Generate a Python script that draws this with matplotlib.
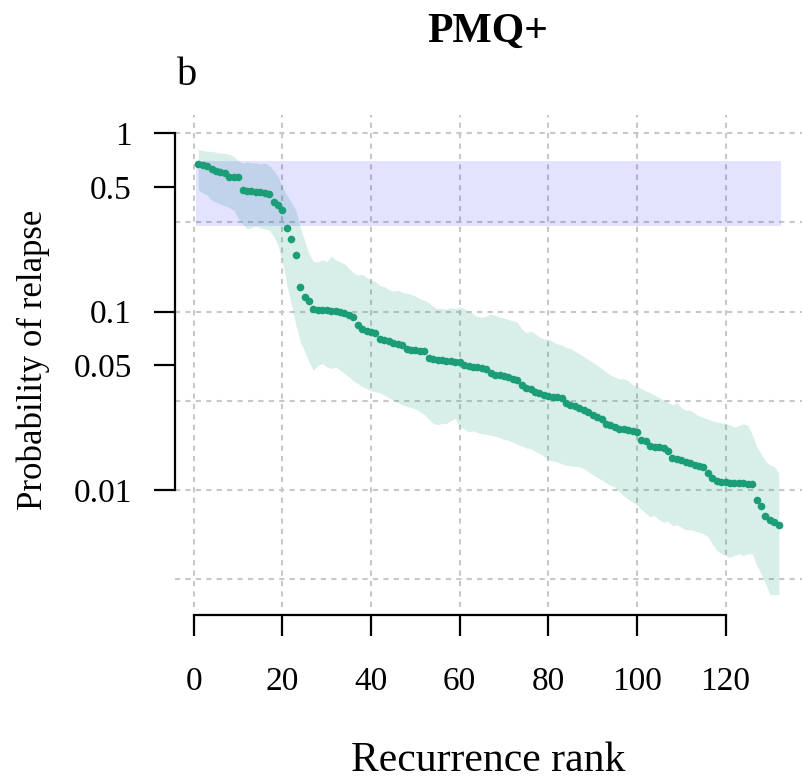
import numpy as np
import matplotlib
matplotlib.use("Agg")
import matplotlib.pyplot as plt

plt.rcParams["font.family"] = ["Liberation Serif", "DejaVu Serif"]

# recurrence rank 1..132, estimated probability of relapse + 95% band
rank = np.arange(1, 133)
prob = [
    0.670, 0.662, 0.653, 0.625, 0.615, 0.605, 0.594, 0.569, 0.566, 0.565,
    0.480, 0.476, 0.472, 0.470, 0.467, 0.462, 0.455, 0.409, 0.395, 0.370,
    0.295, 0.255, 0.207, 0.137, 0.121, 0.115, 0.103, 0.102, 0.102, 0.102,
    0.101, 0.101, 0.100, 0.098, 0.096, 0.093, 0.084, 0.080, 0.078, 0.077,
    0.076, 0.070, 0.069, 0.068, 0.067, 0.066, 0.065, 0.062, 0.061, 0.061,
    0.060, 0.060, 0.0547, 0.0540, 0.0537, 0.0534, 0.0530, 0.0527, 0.0524, 0.0520,
    0.0500, 0.0493, 0.0490, 0.0486, 0.0482, 0.0478, 0.0450, 0.0443, 0.0440, 0.0435,
    0.0428, 0.0418, 0.0413, 0.0387, 0.0375, 0.0366, 0.0356, 0.0348, 0.0343, 0.0338,
    0.0333, 0.0331, 0.0326, 0.0306, 0.0300, 0.0295, 0.0288, 0.0280, 0.0274, 0.0262,
    0.0255, 0.0249, 0.0233, 0.0230, 0.0226, 0.0221, 0.0219, 0.0218, 0.0215, 0.0212,
    0.0191, 0.0188, 0.0177, 0.0175, 0.0174, 0.0172, 0.0166, 0.0152, 0.0149, 0.0147,
    0.0144, 0.0141, 0.0138, 0.0136, 0.0134, 0.0125, 0.0117, 0.0112, 0.0111, 0.0111,
    0.0110, 0.0110, 0.0109, 0.0109, 0.0108, 0.0108, 0.0088, 0.0081, 0.0072, 0.0068,
    0.0066, 0.0064,
]
upper = [
    0.81, 0.80, 0.79, 0.79, 0.78, 0.77, 0.77, 0.76, 0.74, 0.70,
    0.68, 0.69, 0.68, 0.68, 0.67, 0.68, 0.66, 0.62, 0.57, 0.50,
    0.45, 0.41, 0.37, 0.30, 0.25, 0.21, 0.19, 0.19, 0.195, 0.19,
    0.205, 0.195, 0.19, 0.185, 0.175, 0.165, 0.16, 0.162, 0.155, 0.15,
    0.147, 0.14, 0.138, 0.133, 0.13, 0.132, 0.128, 0.127, 0.125, 0.122,
    0.118, 0.116, 0.112, 0.107, 0.104, 0.104, 0.103, 0.105, 0.104, 0.106,
    0.104, 0.100, 0.097, 0.094, 0.093, 0.094, 0.097, 0.095, 0.093, 0.092,
    0.090, 0.089, 0.087, 0.080, 0.076, 0.078, 0.075, 0.072, 0.070, 0.070,
    0.068, 0.066, 0.065, 0.063, 0.062, 0.060, 0.058, 0.056, 0.054, 0.052,
    0.050, 0.048, 0.046, 0.044, 0.043, 0.042, 0.042, 0.041, 0.039, 0.038,
    0.037, 0.036, 0.035, 0.034, 0.033, 0.032, 0.031, 0.030, 0.031, 0.029,
    0.028, 0.028, 0.027, 0.026, 0.0255, 0.025, 0.0245, 0.024, 0.0238, 0.0236,
    0.0232, 0.0225, 0.023, 0.0235, 0.023, 0.0205, 0.0175, 0.016, 0.0145, 0.0138,
    0.0135, 0.0124,
]
lower = [
    0.48, 0.46, 0.45, 0.42, 0.41, 0.40, 0.39, 0.383, 0.37, 0.335,
    0.31, 0.29, 0.295, 0.30, 0.295, 0.29, 0.286, 0.265, 0.235, 0.19,
    0.14, 0.11, 0.085, 0.068, 0.060, 0.052, 0.047, 0.050, 0.051, 0.049,
    0.048, 0.049, 0.047, 0.045, 0.043, 0.041, 0.0396, 0.038, 0.037, 0.036,
    0.0355, 0.035, 0.034, 0.0328, 0.032, 0.031, 0.030, 0.0295, 0.029, 0.0285,
    0.0275, 0.0265, 0.025, 0.0236, 0.0232, 0.0236, 0.0236, 0.0245, 0.0252, 0.0226,
    0.022, 0.0212, 0.0215, 0.021, 0.0207, 0.0205, 0.0203, 0.020, 0.0197, 0.0192,
    0.019, 0.0185, 0.018, 0.0177, 0.0172, 0.0171, 0.0165, 0.016, 0.0155, 0.0148,
    0.0146, 0.0144, 0.014, 0.0138, 0.0137, 0.0136, 0.0135, 0.0132, 0.0127, 0.0122,
    0.0118, 0.0114, 0.011, 0.0106, 0.0104, 0.0098, 0.0093, 0.0089, 0.0086, 0.0082,
    0.0078, 0.0074, 0.0071, 0.0072, 0.0068, 0.0066, 0.0067, 0.0063, 0.0064, 0.0062,
    0.006, 0.006, 0.0059, 0.0058, 0.0057, 0.0055, 0.005, 0.0046, 0.0044, 0.0043,
    0.0042, 0.0043, 0.0044, 0.0043, 0.0044, 0.0044, 0.0038, 0.0034, 0.003, 0.0026,
    0.0026, 0.0026,
]
# target window for relapse probability (blue rectangle)
target_lo, target_hi = 0.3, 0.7

xticks = [0, 20, 40, 60, 80, 100, 120]
yticks = [1, 0.5, 0.1, 0.05, 0.01]
ytick_labels = ["1", "0.5", "0.1", "0.05", "0.01"]

C_PT = "#1b9e77"
GRID = "#c8c8c8"

fig = plt.figure(figsize=(8.02, 7.79), dpi=100)
ax = fig.add_axes([175 / 802, 172 / 779, 627 / 802, 492 / 779])

ax.set_yscale("log")
ax.set_xlim(-4.24, 137.24)
ax.set_ylim(10 ** -2.655, 10 ** 0.101)

# grid: every 20 ranks, every half decade
for gx in xticks:
    ax.axvline(gx, color=GRID, lw=1.5, ls=(0, (2.5, 2.5)), zorder=1)
for k in range(0, -6, -1):
    ax.axhline(10 ** (k / 2), color=GRID, lw=1.5, ls=(0, (2.5, 2.5)), zorder=1)

ax.fill_between(rank, lower, upper, color=C_PT, alpha=0.17, lw=0, zorder=2)
ax.fill_between([0.5, rank[-1] + 0.5], target_lo, target_hi,
                color="blue", alpha=0.11, lw=0, zorder=3)
ax.plot(rank, prob, "o", color=C_PT, ms=5.5, mec="none", zorder=4)

for s in ["top", "right"]:
    ax.spines[s].set_visible(False)
ax.spines["left"].set_bounds(0.01, 1)
ax.spines["bottom"].set_bounds(0, 120)
ax.spines["bottom"].set_position(("outward", 6))
for s in ["left", "bottom"]:
    ax.spines[s].set_linewidth(1.6)

ax.set_xticks(xticks)
ax.set_yticks(yticks)
ax.set_yticklabels(ytick_labels)
ax.minorticks_off()
ax.tick_params(axis="both", length=15, width=1.6, labelsize=24)
ax.tick_params(axis="y", pad=16)
ax.tick_params(axis="x", pad=22)

fig.text(488 / 802, 1 - 42 / 779, "PMQ+", ha="center", va="baseline",
         fontsize=30, fontweight="bold")
fig.text(177 / 802, 1 - 85 / 779, "b", ha="left", va="baseline", fontsize=29)
fig.text(488 / 802, 1 - 771 / 779, "Recurrence rank", ha="center",
         va="baseline", fontsize=30)
fig.text(33 / 802, 1 - 360 / 779, "Probability of relapse", rotation=90,
         ha="center", va="center", fontsize=25)

fig.savefig("out.png", dpi=100)
